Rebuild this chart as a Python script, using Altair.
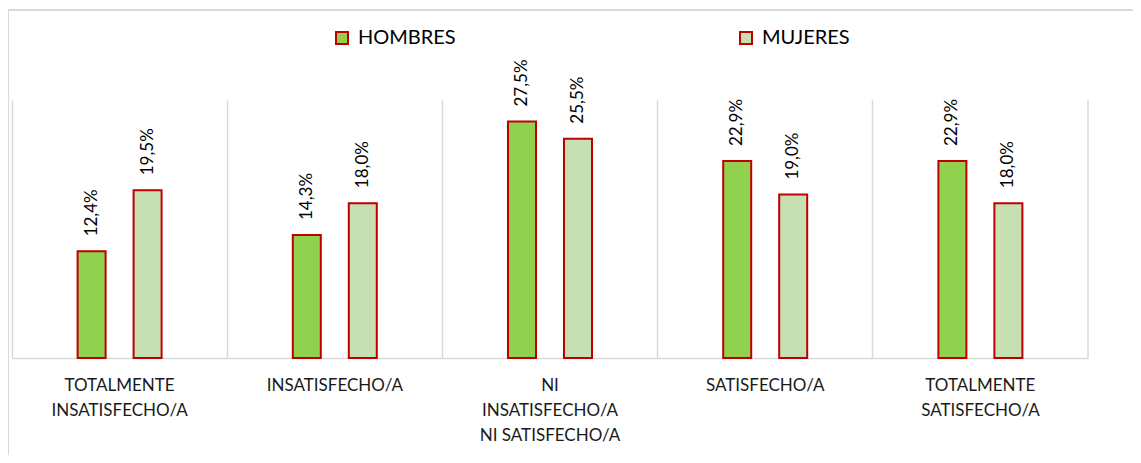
import altair as alt
import pandas as pd

categories = [
    "TOTALMENTE\nINSATISFECHO/A",
    "INSATISFECHO/A",
    "NI\nINSATISFECHO/A\nNI SATISFECHO/A",
    "SATISFECHO/A",
    "TOTALMENTE\nSATISFECHO/A",
]
series = ["HOMBRES", "MUJERES"]
hombres = [12.4, 14.3, 27.5, 22.9, 22.9]
mujeres = [19.5, 18.0, 25.5, 19.0, 18.0]

rows = []
for c, h, m in zip(categories, hombres, mujeres):
    rows.append({"cat": c, "sexo": "HOMBRES", "v": h, "lab": f"{h:.1f}%".replace(".", ",")})
    rows.append({"cat": c, "sexo": "MUJERES", "v": m, "lab": f"{m:.1f}%".replace(".", ",")})
df = pd.DataFrame(rows)

W, H = 1076, 258
FONT = "Lato"
GRID = "#D9D9D9"

x_enc = alt.X("cat:N", sort=categories, title=None,
              scale=alt.Scale(paddingInner=0, paddingOuter=0),
              axis=alt.Axis(labelAngle=0, ticks=False, grid=True, bandPosition=0,
                            gridColor=GRID, gridWidth=1.5, domainColor=GRID, domainWidth=1.5,
                            labelExpr="split(datum.label, '\\n')",
                            labelFont=FONT, labelFontSize=17, labelColor="#1a1a1a",
                            labelLineHeight=25, labelPadding=19, labelBaseline="top",
                            labelLimit=300))
xo_enc = alt.XOffset("sexo:N", sort=series,
                     scale=alt.Scale(paddingInner=0.157, paddingOuter=1))
y_enc = alt.Y("v:Q", scale=alt.Scale(domain=[0, 30]), axis=None)

base = alt.Chart(df)

bars = base.mark_bar(width=28, stroke="#C00000", strokeWidth=2).encode(
    x=x_enc, xOffset=xo_enc, y=y_enc,
    color=alt.Color("sexo:N", sort=series,
                    scale=alt.Scale(domain=series, range=["#92D050", "#C6E0B4"]),
                    legend=alt.Legend(title=None, orient="none", legendX=320, legendY=-72,
                                      direction="horizontal", symbolType="square",
                                      symbolSize=144, symbolStrokeColor="#C00000",
                                      symbolStrokeWidth=2, symbolOpacity=1,
                                      labelFont=FONT, labelFontSize=20, labelColor="#000000",
                                      labelOffset=6, columnPadding=280)),
)

labels = base.mark_text(angle=270, align="left", baseline="middle", dx=15,
                        font=FONT, fontSize=17, color="#000000").encode(
    x=x_enc, xOffset=xo_enc, y=y_enc, text="lab:N")

one = alt.Chart(pd.DataFrame({"a": [0]}))
right_line = one.mark_rule(color=GRID, strokeWidth=1.5).encode(
    x=alt.value(W), y=alt.value(0), y2=alt.value(H))
top_border = one.mark_rule(color=GRID, strokeWidth=2).encode(
    x=alt.value(-4), x2=alt.value(1140), y=alt.value(-90))
left_border = one.mark_rule(color=GRID, strokeWidth=2).encode(
    x=alt.value(-4), y=alt.value(-90), y2=alt.value(380))

chart = alt.layer(top_border, left_border, right_line, bars, labels).properties(
    width=W, height=H,
    autosize=alt.AutoSizeParams(type="none"),
    padding={"left": 4, "top": 92, "right": 45, "bottom": 97},
).configure_view(stroke=None)

chart.save("out.html", embed_options={"renderer": "svg", "actions": False})
